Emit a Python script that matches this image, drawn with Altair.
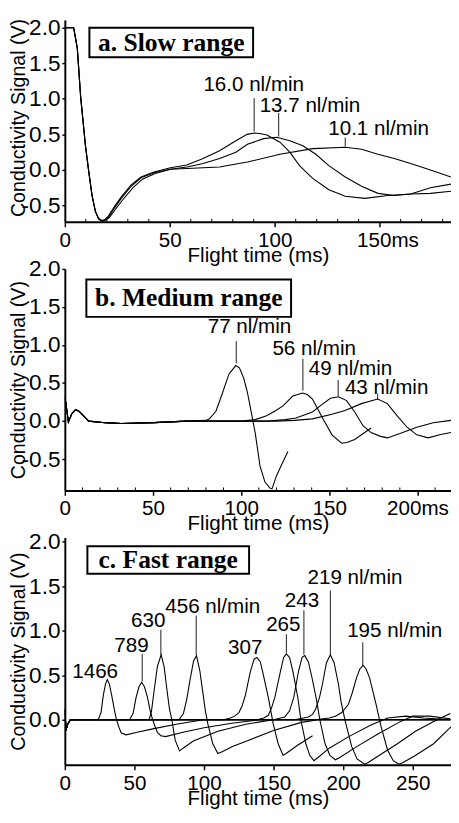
import altair as alt
import pandas as pd

FONT = "Liberation Sans"
SERIF = "Liberation Serif"

# ---------------- panel a : slow range ----------------
A_X_DOMAIN = [0, 184]
A_Y_DOMAIN = [-0.731, 2.11]
A_X_TICKS = [0, 50, 100, 150]
A_Y_TICKS = [-0.5, 0.0, 0.5, 1.0, 1.5, 2.0]
A_MINOR = [10, 20, 30, 40, 60, 70, 80, 90, 110, 120, 130, 140, 160, 170, 180]

a_160 = [(0, 2.0), (4.2, 2.0), (5.9, 1.72), (7.5, 1.03), (9.8, 0.34), (11.4, -0.03), (12.9, -0.35),
         (14.5, -0.58), (16.0, -0.68), (17.6, -0.71), (19.0, -0.70), (20.7, -0.65), (23.8, -0.51),
         (26.9, -0.38), (31.6, -0.21), (36.3, -0.10), (42.5, -0.03), (50.3, 0.03), (58.1, 0.07),
         (65.9, 0.16), (73.7, 0.27), (81.5, 0.41), (86.9, 0.50), (90.5, 0.52), (93.5, 0.51),
         (96.3, 0.49), (102.5, 0.39), (107.2, 0.25), (111.8, 0.06), (118.1, -0.12), (125.8, -0.28),
         (133.6, -0.37), (143, -0.40), (153.9, -0.36), (164.8, -0.34), (174.2, -0.33), (184, -0.30)]
a_137 = [(0, 2.0), (4.2, 2.0), (5.9, 1.72), (7.5, 1.03), (9.8, 0.34), (11.4, -0.03), (12.9, -0.35),
         (14.5, -0.58), (16.0, -0.69), (17.6, -0.72), (19.0, -0.71), (20.7, -0.67), (23.8, -0.53),
         (26.9, -0.40), (31.6, -0.23), (36.3, -0.11), (42.5, -0.04), (50.3, 0.01), (58.1, 0.04),
         (65.9, 0.09), (73.7, 0.16), (81.5, 0.25), (87, 0.36), (94.7, 0.44), (100.9, 0.46),
         (107.2, 0.41), (113.4, 0.34), (119.6, 0.22), (125.8, 0.06), (133.6, -0.10), (141.4, -0.23),
         (149.2, -0.33), (157, -0.36), (164.8, -0.34), (174.2, -0.25), (184, -0.20)]
a_101 = [(0, 2.0), (4.2, 2.0), (6.0, 1.70), (7.6, 1.02), (9.9, 0.33), (11.5, -0.04), (13.0, -0.36),
         (14.6, -0.59), (16.2, -0.69), (17.8, -0.72), (19.3, -0.71), (21.2, -0.67), (24.5, -0.54),
         (27.6, -0.42), (32.5, -0.25), (37, -0.13), (43, -0.05), (50.3, 0.01), (58.1, 0.02),
         (73.7, 0.04), (87, 0.11), (102.5, 0.22), (118.1, 0.30), (133.6, 0.32), (141.4, 0.29),
         (149.2, 0.22), (157, 0.16), (164.8, 0.09), (174.2, 0.0), (184, -0.10)]
A_CURVE_NAMES = ["16.0", "13.7", "10.1"]
A_CURVES = [a_160, a_137, a_101]

A_LABELS = ["16.0 nl/min", "13.7 nl/min", "10.1 nl/min"]
A_LABEL_T = [90.0, 116.8, 149.5]
A_LABEL_V = [1.19, 0.90, 0.57]
A_LEAD_T = [90.2, 101.9, 133.6]
A_LEAD_TOP = [1.01, 0.80, 0.455]
A_LEAD_BOT = [0.54, 0.47, 0.33]
A_BOX = [11.7, 89.7, 1.586, 2.0]
A_TITLE = "a. Slow range"
A_TITLE_POS = [50.7, 1.79]

# ---------------- panel b : medium range ----------------
B_X_DOMAIN = [0, 219]
B_Y_DOMAIN = [-0.91, 2.0]
B_X_TICKS = [0, 50, 100, 150, 200]
B_Y_TICKS = [-0.5, 0.0, 0.5, 1.0, 1.5, 2.0]
B_MINOR = [10, 20, 30, 40, 60, 70, 80, 90, 110, 120, 130, 140, 160, 170, 180, 190, 210]

B_START = [(0, 0.32), (0.8, 0.2), (2.0, -0.01), (4.0, 0.10), (6.1, 0.15), (8, 0.13), (9.8, 0.09),
           (13.5, 0.0), (22.8, -0.02), (32, -0.03), (50.6, -0.02), (69, 0.0)]
b_77 = B_START + [(80, 0.01), (82, 0.03), (85.7, 0.13), (89.4, 0.37), (93.1, 0.62), (96.9, 0.73),
                  (99, 0.70), (101.5, 0.56), (103.5, 0.38), (105.2, 0.18), (108, -0.16), (110.7, -0.59),
                  (113.5, -0.80), (116.3, -0.88), (117.5, -0.89), (120, -0.72), (123, -0.57), (126.5, -0.40)]
b_56 = B_START + [(100, 0.0), (108, 0.02), (114.4, 0.07), (119, 0.13), (123.7, 0.20), (129.3, 0.33),
                  (134.8, 0.37), (137.5, 0.35), (140.4, 0.29), (143, 0.18), (145.9, 0.05), (151.5, -0.18),
                  (157, -0.29), (160, -0.28), (164.4, -0.24), (173.7, -0.09)]
b_49 = B_START + [(115, 0.0), (125, 0.02), (131.1, 0.04), (140.4, 0.12), (145.9, 0.22), (150.6, 0.30),
                  (155.2, 0.32), (159.8, 0.27), (164.4, 0.12), (169.1, -0.06), (173.7, -0.15), (179, -0.20),
                  (183, -0.22), (190.4, -0.16), (199.6, -0.08), (208.9, -0.02), (219, 0.01)]
b_43 = B_START + [(120, 0.0), (130, 0.01), (140.4, 0.03), (151.5, 0.09), (158.9, 0.14), (168.2, 0.23),
                  (177.4, 0.29), (182.9, 0.23), (188.5, 0.07), (194.1, -0.08), (199.6, -0.18), (206.1, -0.22),
                  (212.6, -0.18), (219, -0.15)]
B_CURVE_NAMES = ["77", "56", "49", "43"]
B_CURVES = [b_77, b_56, b_49, b_43]

B_LABELS = ["77 nl/min", "56 nl/min", "49 nl/min", "43 nl/min"]
B_LABEL_T = [104.7, 141.4, 162.0, 182.5]
B_LABEL_V = [1.23, 0.95, 0.69, 0.44]
B_LEAD_T = [97.2, 135.0, 155.0, 177.4]
B_LEAD_TOP = [1.05, 0.82, 0.54, 0.36]
B_LEAD_BOT = [0.76, 0.40, 0.33, 0.29]
B_BOX = [12.2, 128.3, 1.37, 1.86]
B_TITLE = "b. Medium range"
B_TITLE_POS = [70.3, 1.615]

# ---------------- panel c : fast range ----------------
C_X_DOMAIN = [0, 277.5]
C_Y_DOMAIN = [-0.507, 2.048]
C_X_TICKS = [0, 50, 100, 150, 200, 250]
C_Y_TICKS = [0.0, 0.5, 1.0, 1.5, 2.0]

C_START = [(0, 0.12), (0.8, -0.12), (2, -0.05), (4, 0.0)]
c_1466 = C_START + [(24, 0.0), (26, 0.08), (27.7, 0.28), (29.2, 0.40), (30.5, 0.45), (32, 0.40),
                    (33.6, 0.28), (35.5, 0.12), (37.1, 0.0), (39, -0.09), (40.6, -0.15), (44, -0.17),
                    (52, -0.14), (64, -0.10), (80, -0.05), (92, -0.02), (100, 0.0), (277, 0.0)]
c_789 = C_START + [(46.5, 0.0), (49, 0.07), (51.2, 0.25), (53.3, 0.37), (55.2, 0.42), (57.2, 0.37),
                   (59.4, 0.25), (61.2, 0.11), (62.9, 0.01), (64.7, -0.07), (66.4, -0.14), (69, -0.18),
                   (72.3, -0.19), (85, -0.14), (100, -0.09), (120, -0.04), (140, 0.0), (277, 0.0)]
c_630 = C_START + [(60.6, 0.0), (62.3, 0.1), (64.1, 0.32), (66.5, 0.6), (69.2, 0.73), (71.3, 0.6),
                   (73.5, 0.32), (75.2, 0.12), (77, -0.01), (79.3, -0.23), (82.4, -0.35), (85, -0.32),
                   (92.3, -0.24), (110, -0.13), (130, -0.05), (150, 0.0), (277, 0.0)]
c_456 = C_START + [(82, 0.0), (85.2, 0.07), (87.5, 0.22), (90, 0.45), (92.5, 0.66), (94.6, 0.72),
                   (97, 0.55), (99.3, 0.29), (101, 0.1), (102.8, -0.05), (106.3, -0.27), (110, -0.38),
                   (113, -0.36), (120.4, -0.30), (132.2, -0.23), (150, -0.12), (170, -0.03), (182, 0.0),
                   (277, 0.0)]
c_307 = C_START + [(114, 0.0), (119, 0.02), (122, 0.04), (125.1, 0.08), (127.5, 0.16), (129.8, 0.28),
                   (133.3, 0.54), (136, 0.68), (138, 0.70), (140.5, 0.65), (142.7, 0.50), (146.2, 0.25),
                   (149.8, -0.05), (153.3, -0.27), (156.8, -0.40), (159, -0.38), (167, -0.29), (178, -0.18)]
c_265 = C_START + [(138, 0.0), (143, 0.02), (146.2, 0.05), (148.5, 0.13), (150.9, 0.25), (154.9, 0.54),
                   (157.2, 0.70), (159.2, 0.74), (161.5, 0.70), (163.9, 0.54), (167.4, 0.25), (169.7, -0.01),
                   (173.2, -0.27), (176, -0.40), (179, -0.46), (181.5, -0.43), (190, -0.32), (204, -0.19),
                   (220, -0.06), (232, 0.02), (245, 0.04), (258, 0.02), (277, 0.0)]
c_243 = C_START + [(150, 0.0), (158, 0.03), (161.5, 0.10), (164.5, 0.25), (168, 0.55), (170.5, 0.70),
                   (172.5, 0.72), (175, 0.65), (177.5, 0.48), (180.5, 0.25), (183.5, -0.02), (187, -0.27),
                   (190.5, -0.40), (194.4, -0.45), (197, -0.43), (210, -0.30), (225, -0.16), (240, -0.03),
                   (250, 0.04), (262, 0.04), (277, 0.01)]
c_219 = C_START + [(165, 0.0), (175, 0.03), (178, 0.06), (180.3, 0.12), (183, 0.25), (185, 0.39),
                   (188, 0.64), (190.8, 0.73), (193.5, 0.64), (196.7, 0.39), (198.5, 0.2), (201.4, -0.01),
                   (206.1, -0.30), (210, -0.44), (215.5, -0.50), (218, -0.48), (228, -0.38), (239, -0.27),
                   (252, -0.13), (265, -0.02), (277, 0.07)]
c_195 = C_START + [(180, 0.0), (190, 0.02), (194.4, 0.04), (199, 0.08), (203.7, 0.17), (206.5, 0.30),
                   (209.6, 0.47), (212, 0.57), (214.3, 0.61), (216.5, 0.57), (219, 0.47), (221.5, 0.31),
                   (223.7, 0.17), (227.3, -0.08), (231.9, -0.34), (236, -0.46), (240.1, -0.50), (243, -0.48),
                   (251, -0.41), (265, -0.27), (277.5, -0.08)]
C_CURVE_NAMES = ["1466", "789", "630", "456", "307", "265", "243", "219", "195"]
C_CURVES = [c_1466, c_789, c_630, c_456, c_307, c_265, c_243, c_219, c_195]

C_LABELS = ["1466", "789", "630", "456 nl/min", "307", "265", "243", "219 nl/min", "195 nl/min"]
C_LABEL_T = [21.8, 47.9, 59.9, 106.3, 129.6, 157.0, 170.4, 208.5, 237.0]
C_LABEL_V = [0.54, 0.83, 1.11, 1.27, 0.80, 1.06, 1.33, 1.59, 1.00]
C_LEAD_T = [55.6, 69.0, 94.4, 159.2, 171.8, 190.8, 214.1]
C_LEAD_TOP = [0.74, 1.01, 1.17, 0.96, 1.23, 1.45, 0.87]
C_LEAD_BOT = [0.43, 0.73, 0.73, 0.75, 0.73, 0.73, 0.61]
C_BOX = [16.2, 132.4, 1.64, 1.95]
C_TITLE = "c. Fast range"
C_TITLE_POS = [74.3, 1.795]

W = 394
A_H, B_H, C_H = 206, 226, 232


def curves_df(names, curves):
    rows = []
    for name, pts in zip(names, curves):
        for i, (t, v) in enumerate(pts):
            rows.append({"curve": name, "i": i, "t": t, "v": v})
    return pd.DataFrame(rows)


Y_EXPR = "datum.value < 0 ? '-' + format(-datum.value, '.1f') : format(datum.value, '.1f')"


def panel(names, curves, xdom, ydom, xticks, yticks, minor, ms_tick, ms_offset,
          labels, lab_t, lab_v, lead_t, lead_top, lead_bot, box, title, title_pos, h, ytitle_y=None):
    xs = alt.Scale(domain=xdom, nice=False, zero=False)
    ys = alt.Scale(domain=ydom, nice=False, zero=False)
    xaxis_kw = dict(values=xticks, title="Flight time (ms)", tickSize=5, labelPadding=3,
                    titleY=23, titleBaseline="top", labelFlush=False, labelFontSize=21)
    if ms_tick is not None:
        xaxis_kw["labelExpr"] = f"datum.value == {ms_tick} ? '{ms_tick}ms' : datum.label"
        xaxis_kw["labelOffset"] = {"condition": {"test": f"datum.value == {ms_tick}", "value": ms_offset},
                                   "value": 0}
    xaxis = alt.Axis(**xaxis_kw)
    yaxis_kw = dict(values=yticks, title="Conductivity Signal (V)", labelExpr=Y_EXPR,
                    tickSize=3, labelPadding=2, titleX=-37, labelFlush=False,
                    labelFontSize=23, titleFontSize=20)
    if ytitle_y is not None:
        yaxis_kw["titleY"] = ytitle_y
    yaxis = alt.Axis(**yaxis_kw)

    def X(f):
        return alt.X(f, scale=xs, axis=xaxis)

    def Y(f):
        return alt.Y(f, scale=ys, axis=yaxis)

    lines = alt.Chart(curves_df(names, curves)).mark_line(
        color="black", strokeWidth=1.1, clip=True
    ).encode(x=X("t:Q"), y=Y("v:Q"), detail="curve:N", order="i:Q")
    layers = [lines]
    if minor:
        mt = alt.Chart(pd.DataFrame({"t": minor})).mark_rule(color="black", strokeWidth=1).encode(
            x=X("t:Q"), y=alt.value(h), y2=alt.value(h - 3),
        )
        layers.append(mt)
    bdf = pd.DataFrame({"t": [box[0]], "t2": [box[1]], "v": [box[2]], "v2": [box[3]]})
    rect = alt.Chart(bdf).mark_rect(fill="white", stroke="black", strokeWidth=2).encode(
        x=X("t:Q"), x2="t2:Q", y=Y("v:Q"), y2="v2:Q",
    )
    tdf = pd.DataFrame({"t": [title_pos[0]], "v": [title_pos[1]], "label": [title]})
    ttext = alt.Chart(tdf).mark_text(
        font=SERIF, fontWeight="bold", fontSize=26, color="black", baseline="middle", align="center"
    ).encode(x=X("t:Q"), y=Y("v:Q"), text="label:N")
    ldf = pd.DataFrame({"t": lead_t, "v": lead_top, "v2": lead_bot})
    leads = alt.Chart(ldf).mark_rule(color="black", strokeWidth=0.9).encode(
        x=X("t:Q"), y=Y("v:Q"), y2="v2:Q"
    )
    adf = pd.DataFrame({"t": lab_t, "v": lab_v, "label": labels})
    ann = alt.Chart(adf).mark_text(
        font=FONT, fontSize=21, color="black", baseline="middle", align="center"
    ).encode(x=X("t:Q"), y=Y("v:Q"), text="label:N")
    layers += [rect, ttext, leads, ann]
    return alt.layer(*layers).properties(width=W, height=h)


pa = panel(A_CURVE_NAMES, A_CURVES, A_X_DOMAIN, A_Y_DOMAIN, A_X_TICKS, A_Y_TICKS, A_MINOR, 150, 8,
           A_LABELS, A_LABEL_T, A_LABEL_V, A_LEAD_T, A_LEAD_TOP, A_LEAD_BOT, A_BOX, A_TITLE, A_TITLE_POS, A_H,
           ytitle_y=99.5)
pb = panel(B_CURVE_NAMES, B_CURVES, B_X_DOMAIN, B_Y_DOMAIN, B_X_TICKS, B_Y_TICKS, B_MINOR, 200, 0,
           B_LABELS, B_LABEL_T, B_LABEL_V, B_LEAD_T, B_LEAD_TOP, B_LEAD_BOT, B_BOX, B_TITLE, B_TITLE_POS, B_H)
pc = panel(C_CURVE_NAMES, C_CURVES, C_X_DOMAIN, C_Y_DOMAIN, C_X_TICKS, C_Y_TICKS, None, None, 0,
           C_LABELS, C_LABEL_T, C_LABEL_V, C_LEAD_T, C_LEAD_TOP, C_LEAD_BOT, C_BOX, C_TITLE, C_TITLE_POS, C_H)

chart = alt.vconcat(pa, pb, pc, spacing=48, bounds="flush").properties(
    padding=0
).configure_view(
    strokeWidth=0
).configure_axis(
    grid=False,
    domainColor="black", domainWidth=2,
    tickColor="black", tickWidth=1.5,
    labelColor="black", titleColor="black",
    labelFont=FONT, titleFont=FONT,
    labelFontSize=21, titleFontSize=21,
    titleFontWeight="normal",
)

chart.save("out.html", embed_options={"renderer": "svg", "actions": False})
